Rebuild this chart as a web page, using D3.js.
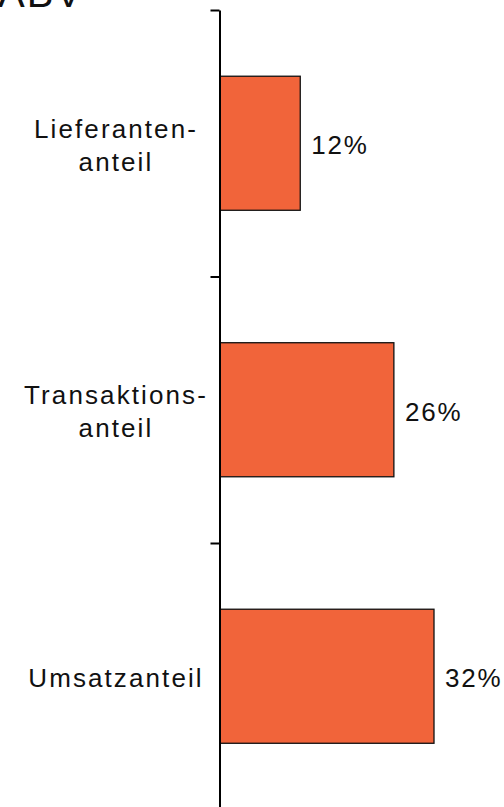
<!DOCTYPE html>
<html>
<head>
<meta charset="utf-8">
<script src="https://cdn.jsdelivr.net/npm/d3@7"></script>
<style>
  html, body { margin: 0; padding: 0; background: #fff; }
  svg { display: block; }
  text { font-family: "Liberation Sans", Arial, sans-serif; fill: #111; }
</style>
</head>
<body>
<script>
const title = "ABV";
const categories = ["Lieferanten-\nanteil", "Transaktions-\nanteil", "Umsatzanteil"];
const values = [12, 26, 32];
const valueLabels = ["12%", "26%", "32%"];

const W = 504, H = 807;
const svg = d3.select("body").append("svg").attr("width", W).attr("height", H);

const x0 = 220, yTop = 10, yBottom = 809.5;
const x = d3.scaleLinear().domain([0, 32]).range([x0, 434]);
const yIdx = d3.scaleLinear().domain([0, categories.length]).range([yTop, yBottom]);
const y = d3.scaleBand().domain(categories).range([yTop, yBottom]).paddingInner(0).paddingOuter(0);
const barH = y.bandwidth() * 0.503;

// title (cut off at top, as in the reference)
svg.append("text").attr("x", -2).attr("y", 7)
  .attr("font-size", 40).attr("letter-spacing", 2).text(title);

// bars
svg.selectAll("rect.bar").data(values).enter().append("rect")
  .attr("class", "bar")
  .attr("x", x(0))
  .attr("y", (d, i) => y(categories[i]) + (y.bandwidth() - barH) / 2)
  .attr("width", d => x(d) - x(0))
  .attr("height", barH)
  .attr("fill", "#F1643A")
  .attr("stroke", "#111")
  .attr("stroke-width", 1.3);

// axis
const axis = d3.axisLeft(yIdx).tickValues(d3.range(categories.length + 1)).tickFormat("").tickSize(9).tickSizeOuter(0);
const g = svg.append("g").attr("transform", `translate(${x0 - 0.5},0)`).call(axis);
g.selectAll("path, line").attr("stroke", "#000").attr("stroke-width", 2);

// category labels
categories.forEach((c, i) => {
  const lines = c.split("\n");
  const cy = y(c) + y.bandwidth() / 2;
  const lh = 33;
  lines.forEach((ln, j) => {
    const off = (j - (lines.length - 1) / 2) * lh;
    svg.append("text")
      .attr("x", 116).attr("y", cy + off + 11)
      .attr("text-anchor", "middle")
      .attr("font-size", 26).attr("letter-spacing", 2.1)
      .text(ln);
  });
});

// value labels
values.forEach((v, i) => {
  const cy = y(categories[i]) + y.bandwidth() / 2;
  svg.append("text")
    .attr("x", x(v) + 11).attr("y", cy + 11)
    .attr("font-size", 26).attr("letter-spacing", 1.8)
    .text(valueLabels[i]);
});
</script>
</body>
</html>
